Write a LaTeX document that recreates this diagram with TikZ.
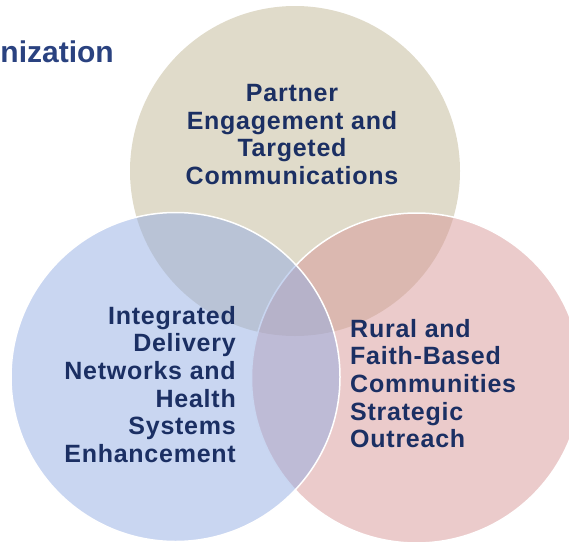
\documentclass[tikz,border=0pt]{standalone}
\usepackage{fontspec}
\setmainfont{Liberation Sans}
\newfontfamily\lblfont[LetterSpace=3]{Liberation Sans}
\definecolor{tanc}{RGB}{224,219,202}
\definecolor{bluec}{RGB}{147,173,227}
\definecolor{pinkc}{RGB}{215,151,151}
\definecolor{navy}{RGB}{27,47,99}
\definecolor{titlec}{RGB}{42,66,128}
\begin{document}
\begin{tikzpicture}[x=1pt,y=-1pt,
  venn/.style={draw=white,line width=1.5pt,fill opacity=0.5},
  lbl/.style={inner sep=0pt,text=navy,font=\lblfont\bfseries\fontsize{25}{27.6}\selectfont}]
\useasboundingbox (0,0) rectangle (569,541);
\fill[tanc] (295,171) circle[radius=165pt];
\path[venn,fill=pinkc] (416.5,378) circle[radius=165pt];
\path[venn,fill=bluec] (175.5,377) circle[radius=164.5pt];
\node[lbl,anchor=base,align=center] (top) at (292,184.5)
  {Partner\\Engagement and\\Targeted\\Communications};
\node[lbl,anchor=base east,align=right] (left) at (236,462.3)
  {Integrated\\Delivery\\Networks and\\Health\\Systems\\Enhancement};
\node[lbl,anchor=base west,align=left] (right) at (350,447.7)
  {Rural and\\Faith-Based\\Communities\\Strategic\\Outreach};
\node[inner sep=0pt,anchor=base east,text=titlec,font=\bfseries\fontsize{30}{36}\selectfont] (title) at (114,62) {nization};
\end{tikzpicture}
\end{document}
